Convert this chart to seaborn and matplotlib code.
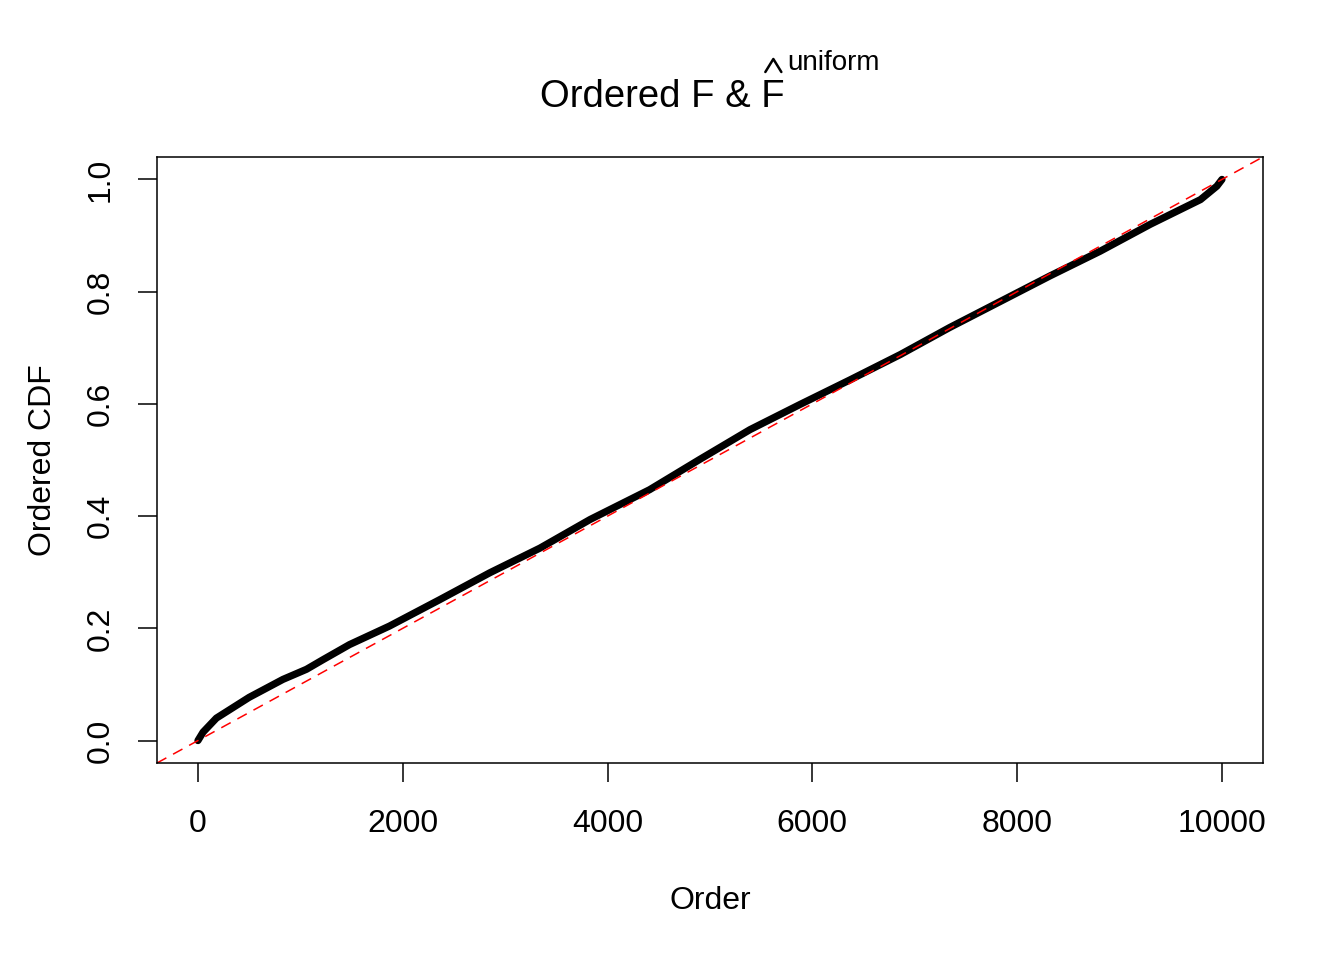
import matplotlib

matplotlib.use("Agg")
import matplotlib.pyplot as plt
from matplotlib.lines import Line2D
import numpy as np
import pandas as pd
import seaborn as sns

# ordered CDF values
order = [0, 50, 180, 500, 830, 1060, 1220, 1480, 1870, 2360, 2850, 3340, 3830,
         4410, 4900, 5390, 5880, 6370, 6860, 7340, 7830, 8320, 8810, 9300,
         9790, 9950, 10000]
ordered_cdf = [0.0, 0.015, 0.040, 0.077, 0.109, 0.127, 0.144, 0.171, 0.204,
               0.251, 0.299, 0.343, 0.394, 0.447, 0.501, 0.554, 0.599, 0.643,
               0.688, 0.736, 0.782, 0.828, 0.872, 0.920, 0.964, 0.988, 1.0]
n_obs = 10000
x_ticks = [0, 2000, 4000, 6000, 8000, 10000]
y_ticks = [0.0, 0.2, 0.4, 0.6, 0.8, 1.0]

sns.set_theme(style="ticks")
plt.rcParams["font.family"] = ["Liberation Sans", "DejaVu Sans"]
plt.rcParams["text.color"] = "black"

df = pd.DataFrame({"order": order, "cdf": ordered_cdf})

fig = plt.figure(figsize=(13.44, 9.6), dpi=100)
ax = fig.add_axes([0.1168, 0.2052, 0.8229, 0.6313])

sns.lineplot(data=df, x="order", y="cdf", ax=ax, color="black", linewidth=5.2,
             solid_capstyle="round")
ax.axline((0, 0), slope=1 / n_obs, color="red", linewidth=1.1,
          dashes=(7, 5))

ax.set_xlim(-0.04 * n_obs, 1.04 * n_obs)
ax.set_ylim(-0.04, 1.04)
ax.set_xticks(x_ticks)
ax.set_xticklabels([str(t) for t in x_ticks])
ax.set_yticks(y_ticks)
ax.set_yticklabels([f"{t:.1f}" for t in y_ticks], rotation=90, va="center")
ax.tick_params(axis="both", length=14, width=1.1, color="black",
               labelsize=23, labelcolor="black")
ax.tick_params(axis="x", pad=19)
ax.tick_params(axis="y", pad=16)

for s in ax.spines.values():
    s.set_visible(True)
    s.set_color("black")
    s.set_linewidth(1.1)

ax.set_xlabel("Order", fontsize=23, labelpad=34, color="black")
ax.set_ylabel("Ordered CDF", fontsize=23, labelpad=20, color="black")

# title: "Ordered F & F-hat^uniform", built from pieces like R's plotmath
renderer = fig.canvas.get_renderer()
W, H = fig.get_size_inches() * fig.dpi
base_y = 1 - 107 / H
main = fig.text(0.5, base_y, "Ordered F & F", fontsize=27.5, ha="left",
                va="baseline", color="black")
sup = fig.text(0.5, base_y, "uniform", fontsize=20, ha="left",
               va="baseline", color="black")
w_main = main.get_window_extent(renderer).width
w_sup = sup.get_window_extent(renderer).width
center_px = (0.1168 + 0.8229 / 2) * W
left_px = center_px - (w_main + w_sup + 2) / 2
main.set_x(left_px / W)
sup.set_position(((left_px + w_main + 2) / W, 1 - 70 / H))

# the hat over the last F, drawn as two strokes
probe = fig.text(0, 0, "F", fontsize=27.5)
f_w = probe.get_window_extent(renderer).width
probe.remove()
hat_x = left_px + w_main - f_w / 2
fig.add_artist(Line2D([(hat_x - 8) / W, hat_x / W, (hat_x + 8) / W],
                      [1 - 72 / H, 1 - 59 / H, 1 - 72 / H],
                      transform=fig.transFigure, color="black", linewidth=1.8))

fig.savefig("out.png", dpi=100, facecolor="white")
